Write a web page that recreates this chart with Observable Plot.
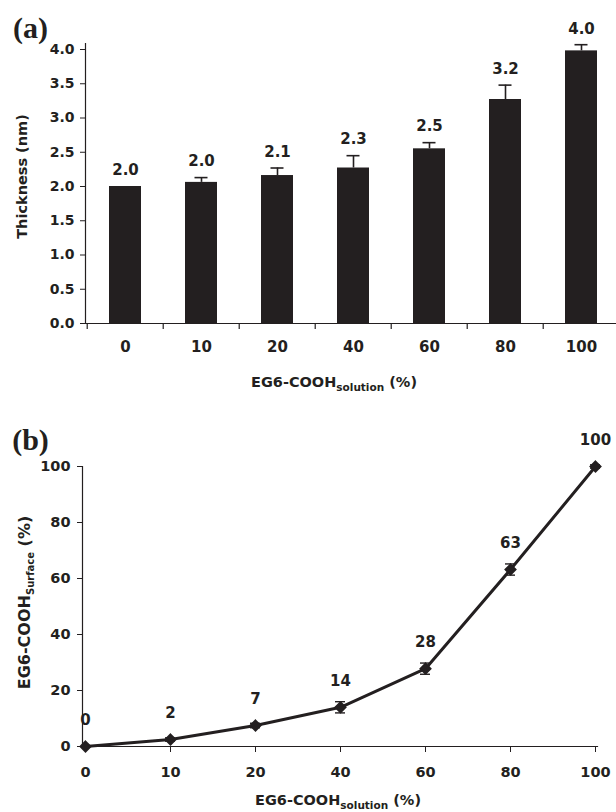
<!DOCTYPE html>
<html>
<head>
<meta charset="utf-8">
<script src="https://cdn.jsdelivr.net/npm/d3@7"></script>
<script src="https://cdn.jsdelivr.net/npm/@observablehq/plot@0.6"></script>
<style>
  html, body { margin: 0; padding: 0; background: #fff; }
  #wrap { width: 616px; height: 812px; overflow: hidden; position: relative; }
  svg { display: block; overflow: visible; }
</style>
</head>
<body>
<div id="wrap"></div>
<script>
// ---- data ----
const categories = ["0", "10", "20", "40", "60", "80", "100"];
const thickness = [2.0, 2.06, 2.16, 2.27, 2.55, 3.27, 3.98];
const thicknessErr = [0, 0.07, 0.11, 0.18, 0.09, 0.21, 0.09];
const thicknessLabels = ["2.0", "2.0", "2.1", "2.3", "2.5", "3.2", "4.0"];
const surface = [0, 2.5, 7.5, 14, 27.8, 63.2, 100];
const surfaceErr = [0, 0.6, 0.8, 2, 2, 2, 0.6];
const surfaceLabels = ["0", "2", "7", "14", "28", "63", "100"];
const thicknessTicks = [0, 0.5, 1.0, 1.5, 2.0, 2.5, 3.0, 3.5, 4.0];
const surfaceTicks = [0, 20, 40, 60, 80, 100];

const ink = "#231f20";
const sans = "'DejaVu Sans', 'Liberation Sans', Arial, sans-serif";
const serif = "'Liberation Serif', 'Times New Roman', serif";

const dataA = categories.map((c, i) => ({cat: c, v: thickness[i], e: thicknessErr[i], label: thicknessLabels[i]}));
const dataB = categories.map((c, i) => ({cat: c, v: surface[i], e: surfaceErr[i], label: surfaceLabels[i]}));

// ---- panel (a) ----
const xRangeA = [85, 621];
const halfStepA = (xRangeA[1] - xRangeA[0]) / categories.length / 2;

const chartA = Plot.plot({
  width: 616,
  height: 395,
  marginLeft: 85,
  marginRight: 0,
  marginTop: 43,
  marginBottom: 72,
  style: {fontFamily: sans, color: ink, background: "white"},
  x: {type: "band", domain: categories, range: xRangeA, paddingInner: 0.58, paddingOuter: 0.29},
  y: {domain: [0, 4], range: [323, 49]},
  marks: [
    Plot.barY(dataA, {x: "cat", y: "v", fill: ink}),
    Plot.ruleX(dataA.filter(d => d.e > 0), {x: "cat", y1: "v", y2: d => d.v + d.e, stroke: ink, strokeWidth: 1.6}),
    Plot.tickY(dataA.filter(d => d.e > 0), {x: "cat", y: d => d.v + d.e, stroke: ink, strokeWidth: 1.6, insetLeft: 9.5, insetRight: 9.5}),
    Plot.text(dataA, {x: "cat", y: d => d.v + d.e, text: "label", dy: -16, fontSize: 15, fontWeight: "bold", fill: ink}),
    Plot.frame({anchor: "left", stroke: ink, strokeWidth: 1.2}),
    Plot.frame({anchor: "bottom", stroke: ink, strokeWidth: 1.2}),
    Plot.ruleX(categories, {x: d => d, y1: 0, y2: 0, insetTop: 6, dx: -halfStepA, stroke: ink, strokeWidth: 1.2}),
    Plot.axisY({ticks: thicknessTicks, tickFormat: d3.format(".1f"), tickSize: 5, tickPadding: 6, fontSize: 14, fontWeight: "bold", label: null, stroke: ink, fill: ink}),
    Plot.axisX({tickSize: 0, tickPadding: 18, fontSize: 15, fontWeight: "bold", label: null, fill: ink}),
    Plot.text([0], {frameAnchor: "left", rotate: -90, textAnchor: "middle", text: () => "Thickness (nm)", dx: -63, dy: -7, fontSize: 14.5, fontWeight: "bold", fill: ink}),
    Plot.text([0], {frameAnchor: "bottom", textAnchor: "middle", lineAnchor: "middle", text: () => "EG6-COOH", dx: -17, dy: 59, fontSize: 14.5, fontWeight: "bold", fill: ink, className: "subtitle-x"}),
    Plot.text([0], {frameAnchor: "top-left", textAnchor: "middle", lineAnchor: "middle", text: () => "(a)", dx: -55, dy: -15, fontSize: 30, fontWeight: "bold", fontFamily: serif, fill: ink})
  ]
});

// ---- panel (b) ----
const errB = dataB.filter(d => d.e > 0);
const chartB = Plot.plot({
  width: 616,
  height: 417,
  marginLeft: 82,
  marginRight: 19,
  marginTop: 71,
  marginBottom: 66,
  style: {fontFamily: sans, color: ink, background: "white"},
  x: {type: "point", domain: categories, padding: 0},
  y: {domain: [0, 100]},
  marks: [
    Plot.frame({anchor: "left", stroke: ink, strokeWidth: 1.2}),
    Plot.frame({anchor: "bottom", stroke: ink, strokeWidth: 1.2}),
    Plot.axisY({ticks: surfaceTicks, tickSize: 5, tickPadding: 7, fontSize: 14.5, fontWeight: "bold", label: null, stroke: ink, fill: ink}),
    Plot.axisX({tickSize: 6, tickPadding: 14, fontSize: 14.5, fontWeight: "bold", label: null, stroke: ink, fill: ink}),
    Plot.line(dataB, {x: "cat", y: "v", stroke: ink, strokeWidth: 3}),
    Plot.ruleX(errB, {x: "cat", y1: d => d.v - d.e, y2: d => d.v + d.e, stroke: ink, strokeWidth: 1.4}),
    Plot.ruleY(errB, {x1: "cat", x2: "cat", y: d => d.v + d.e, stroke: ink, strokeWidth: 1.4, insetLeft: -5, insetRight: -5}),
    Plot.ruleY(errB, {x1: "cat", x2: "cat", y: d => d.v - d.e, stroke: ink, strokeWidth: 1.4, insetLeft: -5, insetRight: -5}),
    Plot.dot(dataB, {x: "cat", y: "v", symbol: "diamond2", r: 4.8, fill: ink, stroke: ink}),
    Plot.text(dataB, {x: "cat", y: "v", text: "label", dy: -26, fontSize: 15, fontWeight: "bold", fill: ink}),
    Plot.text([0], {frameAnchor: "left", rotate: -90, textAnchor: "middle", text: () => "EG6-COOH", dx: -58, dy: -4, fontSize: 16, fontWeight: "bold", fill: ink, className: "subtitle-ys"}),
    Plot.text([0], {frameAnchor: "bottom", textAnchor: "middle", lineAnchor: "middle", text: () => "EG6-COOH", dx: -2, dy: 54, fontSize: 14.5, fontWeight: "bold", fill: ink, className: "subtitle-x"}),
    Plot.text([0], {frameAnchor: "top-left", textAnchor: "middle", lineAnchor: "middle", text: () => "(b)", dx: -52, dy: -26, fontSize: 30, fontWeight: "bold", fontFamily: serif, fill: ink})
  ]
});

// add subscripts as real tspans
function addSub(svg, cls, sub, subSize) {
  d3.select(svg).selectAll("g." + cls + " text").each(function() {
    const t = d3.select(this);
    const main = t.text();
    t.text(null);
    t.append("tspan").text(main);
    t.append("tspan").attr("dy", 4).attr("font-size", subSize).text(sub);
    t.append("tspan").attr("dy", -4).text(" (%)");
  });
}
addSub(chartA, "subtitle-x", "solution", 10.5);
addSub(chartB, "subtitle-x", "solution", 10.5);
addSub(chartB, "subtitle-ys", "Surface", 10);

document.getElementById("wrap").append(chartA, chartB);
</script>
</body>
</html>
